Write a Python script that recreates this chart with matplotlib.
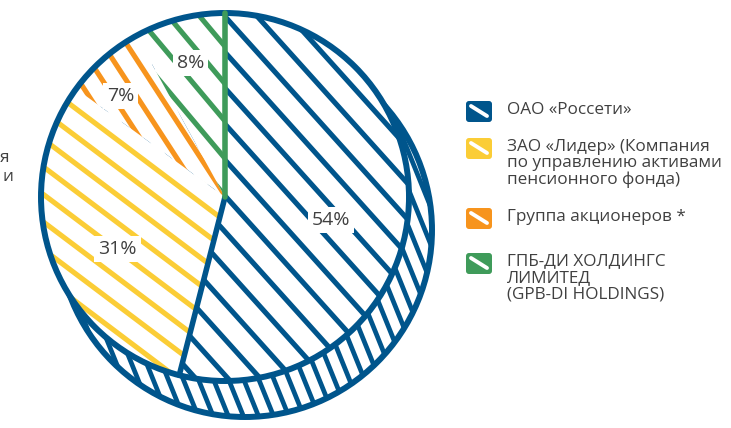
import matplotlib.pyplot as plt
import numpy as np
from matplotlib.patches import Circle, FancyBboxPatch

plt.rcParams['font.family'] = ['Open Sans', 'DejaVu Sans']

# data
shares = [54, 31, 7, 8]
pct_labels = ['54%', '31%', '7%', '8%']
legend_names = ['ОАО «Россети»',
                'ЗАО «Лидер» (Компания\nпо управлению активами\nпенсионного фонда)',
                'Группа акционеров *',
                'ГПБ-ДИ ХОЛДИНГС\nЛИМИТЕД\n(GPB-DI HOLDINGS)']
colors = ['#00558c', '#fbcd36', '#f7941d', '#3f9b5a']

# hand drawn look of each slice
hatch_angle = [-48, -37, -57, -50]
hatch_gap = [24, 22, 20, 24]
label_frac = [0.59, 0.65, 0.79, 0.75]
label_turn = [-5, 6, 4.5, 0]

W, H = 731, 428
BLUE = colors[0]
GREY = '#404040'

fig = plt.figure(figsize=(W / 100, H / 100), dpi=100)
ax = fig.add_axes([0, 0, 1, 1])

cx, cy, R = 225, H - 197, 184


def hatch(clip, c, ang, gap, color, z, lw=3.7):
    a = np.deg2rad(ang)
    d = np.array([np.cos(a), np.sin(a)])
    n = np.array([-d[1], d[0]])
    for k in np.arange(-1.3 * R, 1.3 * R, gap):
        p = np.array(c) + k * n
        p0, p1 = p - 1.4 * R * d, p + 1.4 * R * d
        ln, = ax.plot([p0[0], p1[0]], [p0[1], p1[1]], color=color, lw=lw,
                      solid_capstyle='round', zorder=z)
        ln.set_clip_path(clip)


# rim underneath (the "3d" edge)
rim_c = (cx + 20, cy - 33)
rim = Circle(rim_c, 187, facecolor='white', edgecolor=BLUE, lw=4.3, zorder=1)
ax.add_patch(rim)
hatch(rim, rim_c, -68, 14, BLUE, 1.5, lw=3.4)

# pie
wedges, _ = ax.pie(shares, colors=['white'] * 4, startangle=90, counterclock=False,
                   radius=R, center=(cx, cy), wedgeprops=dict(lw=0))
for i, w in enumerate(wedges):
    w.set_zorder(3)
    hatch(w, (cx, cy), hatch_angle[i], hatch_gap[i], colors[i], 4)

ax.add_patch(Circle((cx, cy), R, fill=False, edgecolor=BLUE, lw=4.3, zorder=5))
for ang, col in [(wedges[0].theta1, BLUE), (wedges[0].theta2, colors[3])]:
    t = np.deg2rad(ang)
    ax.plot([cx, cx + R * np.cos(t)], [cy, cy + R * np.sin(t)], color=col, lw=4,
            solid_capstyle='round', zorder=5)

for i, w in enumerate(wedges):
    t = np.deg2rad((w.theta1 + w.theta2) / 2 + label_turn[i])
    ax.text(cx + label_frac[i] * R * np.cos(t), cy + label_frac[i] * R * np.sin(t),
            pct_labels[i], ha='center', va='center', fontsize=14, color=GREY,
            zorder=6, bbox=dict(facecolor='white', edgecolor='none', pad=3))

# legend
leg_y = [111, 148, 218, 263]
for i, name in enumerate(legend_names):
    y = H - leg_y[i]
    ax.add_patch(FancyBboxPatch((466, y - 11), 26, 21,
                                boxstyle='round,pad=0,rounding_size=3',
                                facecolor=colors[i], edgecolor='none', zorder=5))
    ax.plot([471, 487], [y + 5, y - 5], color='white', lw=2.8,
            solid_capstyle='round', zorder=6)
    ax.text(507, y + 9.5, name, ha='left', va='top', fontsize=12.3, color=GREY,
            linespacing=1.03)

# cut off text of the neighbouring chart
ax.text(9, H - 158, 'я', ha='right', va='center', fontsize=12.3, color=GREY)
ax.text(13, H - 177, 'и', ha='right', va='center', fontsize=12.3, color=GREY)

ax.set_xlim(0, W)
ax.set_ylim(0, H)
ax.set_aspect('auto')
ax.axis('off')

fig.savefig('out.png', dpi=100)
